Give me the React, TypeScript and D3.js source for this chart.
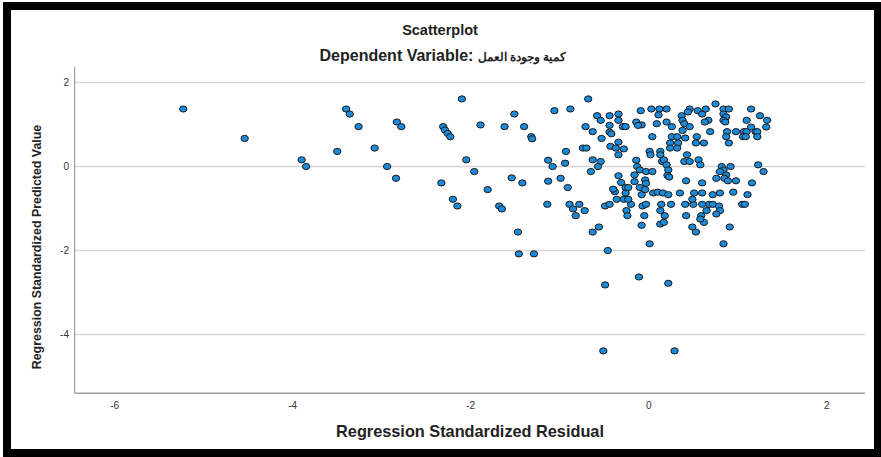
import { useEffect, useRef } from 'react';
import * as d3 from 'd3';

// Regression standardized residual (x) and predicted value (y) per case
const residuals = [
  -5.23, -4.54, -3.9, -3.85, -3.5, -3.4, -3.36, -3.26, -3.08, -2.94, -2.84, -2.83, -2.78, -2.33, -2.31,
  -2.29, -2.26, -2.23, -2.2, -2.15, -2.1, -2.05, -1.96, -1.89, -1.81, -1.68, -1.65, -1.54, -1.42, -1.47,
  -1.46, -1.29, -1.13, -1.14, -1.08, -1.13, -0.94, -0.99, -0.91, -0.89, -0.85, -0.82, -0.78, -0.72, -1.62,
  -1.51, -1.4, -1.32, -1.31, -1.06, -0.88, -0.68, -0.93, -0.46, -0.49, -0.11, 0.22, 0.01, 0.84, -0.63,
  -0.56, -0.08, 0.91, 0.49, 0.53, 0.13, 0.17, -0.49, -0.44, -0.25, -0.24, -0.2, -0.07, -0.03, -0.05,
  0.14, 0.13, 0.18, 0.25, 0.42, 0.41, 0.5, 0.49, 0.6, 0.68, 0.72, 0.59, 0.62, 0.58, 0.79,
  0.8, 0.76, 0.65, 1.05, 1.08, 1.11, -0.38, -0.26, -0.08, 0.05, 0.1, 0.16, 0.22, 0.35, 0.51,
  0.6, 0.72, 0.8, -0.36, -0.28, -0.23, -0.51, 0.29, -0.58, -0.54, -0.44, -0.34, -0.34, -0.71, -0.63,
  -0.44, -0.44, -0.42, -0.29, -0.26, -0.53, -0.09, -0.14, -0.08, -0.12, 0.03, 0.12, 0.2, 0.11, 0.09,
  0.2, 0.26, 0.04, -0.34, -0.43, -0.37, -0.28, -0.34, -0.74, -0.7, -0.63, -0.54, -0.57, -0.65, -0.14,
  -0.13, -0.1, -0.16, -0.16, -0.03, 0.04, 0.01, 0.02, 0.13, 0.13, 0.15, 0.17, 0.2, 0.22, 0.21,
  0.23, -0.34, -0.31, -0.4, -0.26, -0.23, -0.04, -0.03, -0.1, -0.04, 0.26, 0.32, 0.24, 0.33, 0.24,
  0.32, 0.37, 0.46, 0.38, 0.4, 0.38, 0.41, 0.44, 0.46, 0.55, 0.6, 0.64, 0.67, 0.63, 0.75,
  0.69, 0.54, 0.53, 0.62, 0.43, 0.4, 0.46, 0.56, 0.58, 0.84, 0.9, 0.84, 0.87, 0.84, 0.86,
  0.88, 0.98, 1.07, 1.1, 1.2, 1.22, 0.87, 0.9, 1.15, 1.25, 1.1, 1.33, 1.15, 1.32, 1.22,
  1.06, 1.09, 1.23, 1.29, 0.82, 0.92, 0.84, 0.8, 0.87, 0.85, 0.89, 0.76, 0.98, 1.16, 0.42,
  0.6, 0.95,
];

const predicted = [
  1.37, 0.67, 0.16, 0.0, 0.36, 1.37, 1.25, 0.95, 0.44, 0.0, -0.28, 1.06, 0.95, -0.39, 0.95,
  0.87, 0.79, 0.71, -0.78, -0.94, 1.61, 0.16, -0.12, 0.99, -0.55, -0.94, -1.01, -0.27, -0.39, -1.56,
  -2.08, -2.08, -0.35, -0.9, 0.0, 0.15, 0.08, -0.28, -0.5, -0.9, -1.01, -1.17, -0.9, -1.05, 0.95,
  1.25, 0.95, 0.71, 0.66, 1.33, 1.37, 1.61, 0.36, -2.0, -2.82, -2.63, -2.78, -1.84, -1.84, -1.56,
  -1.44, -1.4, -1.44, -1.44, -1.56, -1.37, -1.33, -0.94, -0.9, -1.05, -1.17, -0.9, -0.94, -0.9, -1.17,
  -0.9, -1.05, -1.17, -0.9, -1.17, -0.9, -0.9, -0.78, -0.9, -0.9, -0.9, -1.17, -1.33, -1.25, -0.94,
  -1.05, -1.13, -1.05, -0.9, -0.9, -0.67, -0.6, -0.63, -0.67, -0.63, -0.61, -0.63, -0.67, -0.63, -0.63,
  -0.63, -0.67, -0.63, -0.78, -0.78, -0.78, -4.39, -4.39, 1.21, 1.1, 1.21, 1.25, 1.1, 0.95, 0.83,
  0.98, 0.82, 0.78, 0.95, 0.95, 0.67, 1.33, 1.06, 0.99, 0.98, 1.37, 1.37, 1.37, 1.23, 1.02,
  1.06, 0.95, 0.71, 0.58, 0.48, 0.44, 0.42, 0.28, 0.44, 0.44, 0.16, 0.12, 0.0, -0.12, 0.15,
  0.0, -0.08, -0.2, -0.36, -0.12, -0.12, 0.36, 0.28, 0.36, 0.28, 0.12, 0.16, 0.04, -0.08, -0.21,
  -0.25, -0.22, -0.38, -0.54, -0.5, -0.5, -0.32, -0.4, -0.5, -0.55, 0.71, 0.71, 0.56, 0.56, 0.44,
  0.44, 1.21, 1.37, 1.1, 1.02, 0.86, 0.68, 1.3, 0.95, 1.33, 1.25, 1.37, 1.1, 1.06, 1.49,
  0.83, 0.71, 0.56, 0.56, 0.28, 0.12, 0.12, 0.16, 0.04, 1.37, 1.37, 1.25, 1.18, 1.1, 1.06,
  0.83, 0.83, 0.83, 0.83, 0.83, 0.83, 0.71, 0.56, 1.37, 1.21, 1.1, 1.1, 0.94, 0.94, 0.71,
  0.71, 0.71, 0.04, -0.12, 0.0, 0.0, -0.08, -0.12, -0.2, -0.28, -0.34, -0.28, -0.34, -0.39, -0.34,
  -0.39, -0.61,
];

const xTicks = [-6, -4, -2, 0, 2];
const yTicks = [2, 0, -2, -4];

const title = 'Scatterplot';
const subtitleLead = 'Dependent Variable: ';
const subtitleLabel = 'كمية وجودة العمل';
const xTitle = 'Regression Standardized Residual';
const yTitle = 'Regression Standardized Predicted Value';

const W = 881;
const H = 457;
const FONT = '"Liberation Sans", Arial, sans-serif';

export default function App() {
  const ref = useRef<SVGSVGElement>(null);

  useEffect(() => {
    document.body.style.margin = '0';
    const svg = d3.select(ref.current);
    svg.selectAll('*').remove();

    // frame
    svg.append('rect').attr('width', W).attr('height', H).attr('fill', '#fff');
    svg.append('rect').attr('x', 3).attr('y', 2).attr('width', W - 3).attr('height', H - 2).attr('fill', '#000');
    svg.append('rect').attr('x', 11).attr('y', 10).attr('width', 863).attr('height', 439).attr('fill', '#fff');

    const x = d3.scaleLinear().domain([-6.45, 2.43]).range([74.7, 865]);
    const y = d3.scaleLinear().domain([-5.4, 2.37]).range([393.3, 67]);

    // grid
    svg
      .append('g')
      .selectAll('line')
      .data(yTicks)
      .join('line')
      .attr('x1', x.range()[0])
      .attr('x2', x.range()[1])
      .attr('y1', (d) => y(d))
      .attr('y2', (d) => y(d))
      .attr('stroke', '#d5d5d5')
      .attr('stroke-width', 1.5);

    // axis lines
    svg
      .append('line')
      .attr('x1', x.range()[0])
      .attr('x2', x.range()[0])
      .attr('y1', y.range()[1])
      .attr('y2', y.range()[0])
      .attr('stroke', '#8a8a8a')
      .attr('stroke-width', 1);
    svg
      .append('line')
      .attr('x1', x.range()[0])
      .attr('x2', x.range()[1])
      .attr('y1', y.range()[0])
      .attr('y2', y.range()[0])
      .attr('stroke', '#a0a0a0')
      .attr('stroke-width', 1.6);

    // tick labels
    svg
      .append('g')
      .selectAll('text')
      .data(xTicks)
      .join('text')
      .attr('x', (d) => x(d))
      .attr('y', 409)
      .attr('text-anchor', 'middle')
      .attr('font-family', FONT)
      .attr('font-size', 10)
      .attr('fill', '#333')
      .text((d) => d);
    svg
      .append('g')
      .selectAll('text')
      .data(yTicks)
      .join('text')
      .attr('x', 69)
      .attr('y', (d) => y(d) + 3.5)
      .attr('text-anchor', 'end')
      .attr('font-family', FONT)
      .attr('font-size', 10)
      .attr('fill', '#333')
      .text((d) => d);

    // titles
    svg
      .append('text')
      .attr('x', 440)
      .attr('y', 35)
      .attr('text-anchor', 'middle')
      .attr('font-family', FONT)
      .attr('font-weight', 'bold')
      .attr('font-size', 14.5)
      .attr('fill', '#222')
      .text(title);
    const sub = svg
      .append('text')
      .attr('x', 443)
      .attr('y', 61)
      .attr('text-anchor', 'middle')
      .attr('font-family', FONT)
      .attr('font-weight', 'bold')
      .attr('font-size', 16)
      .attr('fill', '#222');
    sub.append('tspan').text(subtitleLead);
    sub.append('tspan').attr('font-size', 12).text(subtitleLabel);

    svg
      .append('text')
      .attr('x', 470)
      .attr('y', 437)
      .attr('text-anchor', 'middle')
      .attr('font-family', FONT)
      .attr('font-weight', 'bold')
      .attr('font-size', 16.3)
      .attr('fill', '#222')
      .text(xTitle);
    svg
      .append('text')
      .attr('transform', 'translate(41,247) rotate(-90)')
      .attr('text-anchor', 'middle')
      .attr('font-family', FONT)
      .attr('font-weight', 'bold')
      .attr('font-size', 12.4)
      .attr('fill', '#222')
      .text(yTitle);

    // points
    svg
      .append('g')
      .selectAll('ellipse')
      .data(residuals.map((r, i) => [r, predicted[i]]))
      .join('ellipse')
      .attr('cx', (d) => x(d[0]))
      .attr('cy', (d) => y(d[1]))
      .attr('rx', 3.7)
      .attr('ry', 3.1)
      .attr('fill', '#1b8ad9')
      .attr('stroke', '#1a1a1a')
      .attr('stroke-width', 1);
  }, []);

  return <svg ref={ref} width={W} height={H} style={{ display: 'block' }} />;
}
